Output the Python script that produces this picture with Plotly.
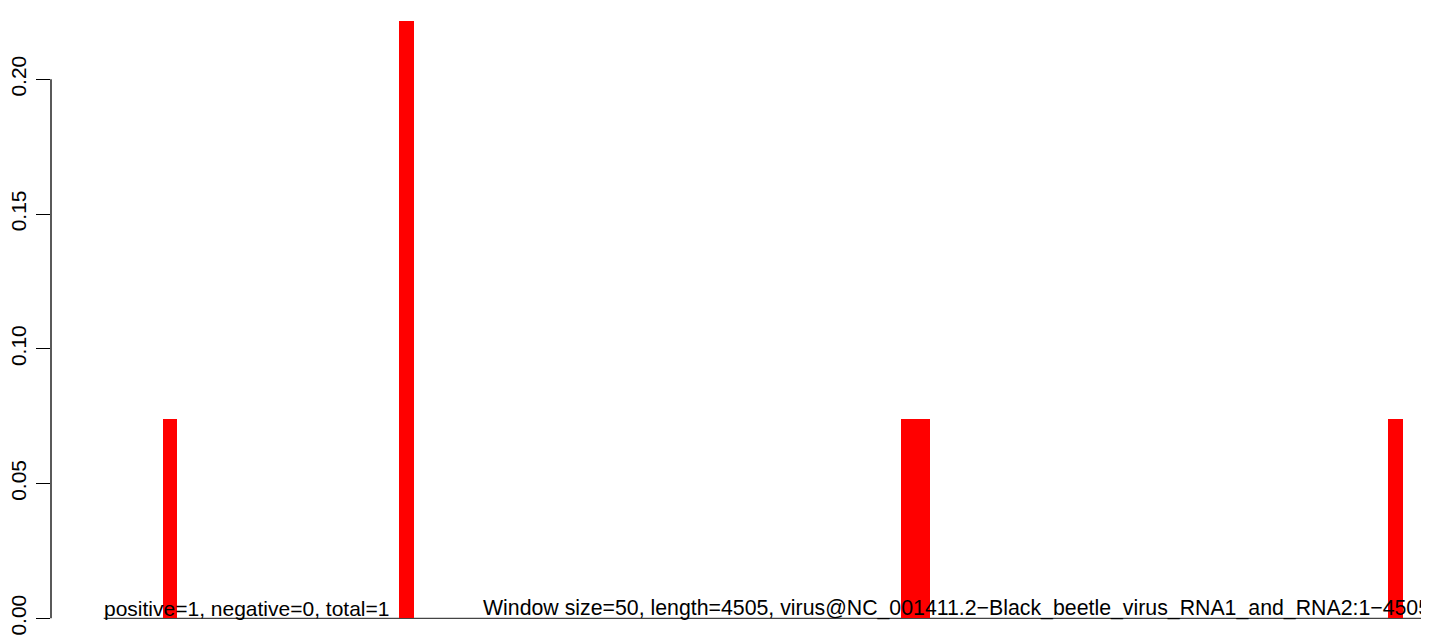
import plotly.graph_objects as go

# Data
window_size = 50
genome_length = 4505
window_starts = [200, 1000, 2700, 2750, 4350]
density = [0.0739, 0.2217, 0.0739, 0.0739, 0.0739]
y_ticks = [0.0, 0.05, 0.10, 0.15, 0.20]
y_tick_labels = ["0.00", "0.05", "0.10", "0.15", "0.20"]
left_label = "positive=1, negative=0, total=1"
right_label = ("Window size=50, length=4505, "
               "virus@NC_001411.2\u2212Black_beetle_virus_RNA1_and_RNA2:1\u22124505")
right_label_x = 1284

FONT = "Liberation Sans, Arial, Helvetica, sans-serif"

fig = go.Figure()
fig.add_trace(go.Bar(
    x=window_starts,
    y=density,
    width=window_size,
    offset=0,
    marker=dict(color="#FF0000", line=dict(width=0)),
    showlegend=False,
    hoverinfo="x+y",
))

# baseline under the bars (0..genome length)
fig.add_shape(type="line", xref="x", yref="y", x0=0, x1=genome_length, y0=0, y1=0,
              line=dict(color="#444444", width=1.2), layer="below")
# y axis line spanning the tick range only (R style)
fig.add_shape(type="line", xref="paper", yref="y", x0=0, x1=0,
              y0=y_ticks[0], y1=y_ticks[-1],
              line=dict(color="black", width=1.3))

fig.add_annotation(x=0, y=0, xref="x", yref="y", text=left_label,
                   showarrow=False, xanchor="left", yanchor="bottom",
                   borderpad=0, yshift=-3, xshift=-1,
                   font=dict(family=FONT, size=21, color="black"))
fig.add_annotation(x=right_label_x, y=0, xref="x", yref="y", text=right_label,
                   showarrow=False, xanchor="left", yanchor="bottom",
                   borderpad=0, yshift=-3, xshift=-1,
                   font=dict(family=FONT, size=21.3, color="black"))

fig.update_layout(
    width=1421, height=630,
    margin=dict(l=43, r=0, t=0, b=0, autoexpand=False),
    paper_bgcolor="white", plot_bgcolor="white",
    bargap=0,
    xaxis=dict(range=[-178.5, 4489.5], showgrid=False, zeroline=False,
               showline=False, showticklabels=False, ticks="", automargin=False),
    yaxis=dict(range=[-0.00731, 0.22646], showgrid=False, zeroline=False,
               showline=False, tickmode="array", tickvals=y_ticks,
               ticktext=y_tick_labels, ticks="outside", ticklen=14,
               tickwidth=1.3, tickcolor="black", tickangle=-90,
               tickfont=dict(family=FONT, size=21, color="black"),
               ticklabelstandoff=2, automargin=False),
)

fig.write_html("out.html")
